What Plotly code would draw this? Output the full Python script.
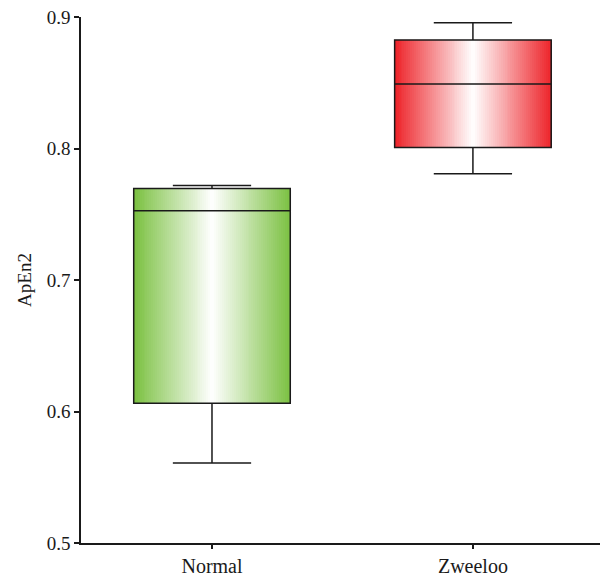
import numpy as np
import plotly.graph_objects as go

categories = ["Normal", "Zweeloo"]
q1 = [0.6062, 0.8008]
median = [0.7526, 0.8491]
q3 = [0.7696, 0.8826]
lowerfence = [0.5609, 0.7808]
upperfence = [0.7719, 0.8956]
tick_vals_y = [0.5, 0.6, 0.7, 0.8, 0.9]

edge_colors = ["rgb(122,192,64)", "rgb(237,34,40)"]
box_width = 0.6
font_family = "Liberation Serif, Times New Roman, serif"
ink = "#1a1a1a"

fig = go.Figure()

# gradient fills (edge colour -> white in the centre)
n = 80
for i, cat in enumerate(categories):
    edges = np.linspace(i - box_width / 2, i + box_width / 2, n + 1)
    centers = (edges[:-1] + edges[1:]) / 2
    z = np.abs(centers - i) / (box_width / 2)
    fig.add_trace(go.Heatmap(
        x=edges, y=[q1[i], q3[i]], z=[z.tolist()],
        colorscale=[[0, "white"], [1, edge_colors[i]]],
        zmin=0, zmax=1, showscale=False, hoverinfo="skip",
    ))

for i, cat in enumerate(categories):
    fig.add_trace(go.Box(
        x=[i], q1=[q1[i]], median=[median[i]], q3=[q3[i]],
        lowerfence=[lowerfence[i]], upperfence=[upperfence[i]],
        width=box_width, whiskerwidth=0.5,
        fillcolor="rgba(0,0,0,0)",
        line=dict(color=ink, width=1.5),
        name=cat, showlegend=False,
    ))

fig.update_layout(
    width=600, height=578,
    margin=dict(l=81, r=0, t=17, b=35),
    plot_bgcolor="white", paper_bgcolor="white",
    font=dict(family=font_family, size=19, color=ink),
    showlegend=False,
)
fig.update_xaxes(
    range=[-0.502, 1.487], tickvals=[0, 1], ticktext=categories,
    showgrid=False, zeroline=False, showline=True, linecolor=ink, linewidth=1.5,
    ticks="outside", ticklen=4, tickcolor=ink, tickwidth=1.5,
    tickfont=dict(size=20, color=ink), automargin=False,
)
fig.update_yaxes(
    range=[0.5, 0.9], tickvals=tick_vals_y, ticktext=[f"{v:.1f}" for v in tick_vals_y],
    showgrid=False, zeroline=False, showline=True, linecolor=ink, linewidth=1.5,
    ticks="outside", ticklen=5, tickcolor=ink, tickwidth=1.5,
    tickfont=dict(size=19, color=ink), automargin=False,
    title=dict(text="ApEn2", font=dict(size=19, color=ink), standoff=10),
)

fig.write_html(
    "out.html",
    config={"displayModeBar": False},
    post_script="document.body.style.margin='0';document.body.style.padding='0';",
)
